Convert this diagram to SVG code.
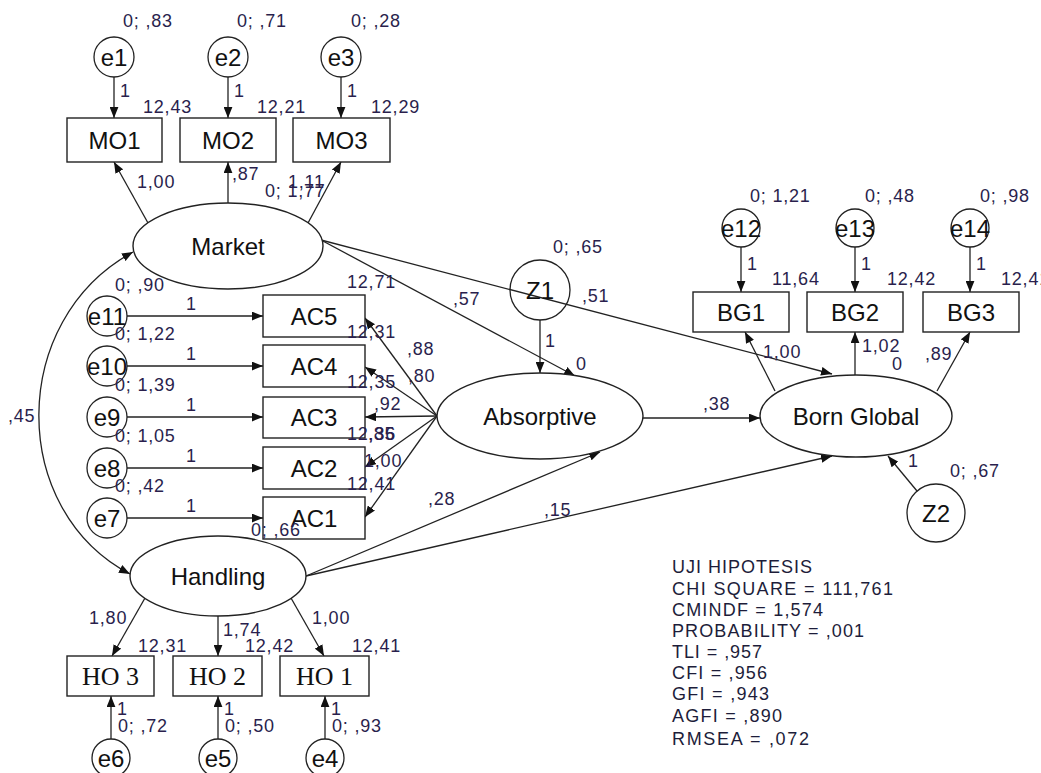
<svg xmlns="http://www.w3.org/2000/svg" width="1041" height="773" viewBox="0 0 1041 773">
<defs>
<marker id="ah" viewBox="0 0 10 8" refX="10" refY="4" markerWidth="11" markerHeight="9" orient="auto-start-reverse" markerUnits="userSpaceOnUse"><path d="M0,0 L10,4 L0,8 z" fill="#111"/></marker>
<style>
.c{stroke:#222;stroke-width:1.3;fill:none}
.a{stroke:#222;stroke-width:1.3;fill:none;marker-end:url(#ah)}
.n{stroke:#222;stroke-width:1.4;fill:#fff}
.e{stroke:#222;stroke-width:1.3;fill:none}
.t{font-family:"Liberation Sans",Arial,sans-serif;font-size:24px;fill:#111;text-anchor:middle}
.ts{font-family:"Liberation Serif","Times New Roman",serif;font-size:26px;fill:#111;text-anchor:middle}
.l{font-family:"Liberation Sans",Arial,sans-serif;font-size:18px;fill:#2a1f4d;letter-spacing:0.8px}
.s{font-family:"Liberation Sans",Arial,sans-serif;font-size:18px;fill:#1d1d3a}
</style>
</defs>
<rect width="1041" height="773" fill="#fff"/>

<g id="connectors">
<line class="a" x1="114" y1="77" x2="114" y2="118"/>
<line class="a" x1="228" y1="77" x2="228" y2="118"/>
<line class="a" x1="341" y1="77" x2="341" y2="118"/>
<line class="a" x1="148" y1="223" x2="114" y2="162"/>
<line class="a" x1="228" y1="203" x2="228" y2="162"/>
<line class="a" x1="308" y1="223" x2="341" y2="162"/>
<line class="a" x1="321" y1="240" x2="832" y2="374"/>
<line class="a" x1="321" y1="240" x2="575" y2="376"/>
<path class="c" d="M133,252 C 8,320 8,510 130,574" style="marker-start:url(#ah);marker-end:url(#ah)"/>
<line class="a" x1="127" y1="316" x2="263" y2="316"/>
<line class="a" x1="127" y1="366" x2="263" y2="366"/>
<line class="a" x1="127" y1="417" x2="263" y2="417"/>
<line class="a" x1="127" y1="468" x2="263" y2="468"/>
<line class="a" x1="127" y1="518" x2="263" y2="518"/>
<line class="a" x1="437" y1="416" x2="365" y2="318"/>
<line class="a" x1="437" y1="416" x2="365" y2="367"/>
<line class="a" x1="437" y1="416" x2="365" y2="417"/>
<line class="a" x1="437" y1="416" x2="365" y2="467"/>
<line class="a" x1="437" y1="416" x2="365" y2="517"/>
<line class="a" x1="540" y1="320" x2="540" y2="373"/>
<line class="a" x1="643" y1="418" x2="760" y2="418"/>
<line class="a" x1="306" y1="576" x2="600" y2="452"/>
<line class="a" x1="306" y1="576" x2="832" y2="456"/>
<line class="a" x1="741" y1="247" x2="741" y2="292"/>
<line class="a" x1="855" y1="247" x2="855" y2="292"/>
<line class="a" x1="970" y1="247" x2="970" y2="292"/>
<line class="a" x1="775" y1="391" x2="745" y2="332"/>
<line class="a" x1="855" y1="375" x2="855" y2="332"/>
<line class="a" x1="937" y1="391" x2="970" y2="332"/>
<line class="a" x1="917" y1="491" x2="888" y2="456"/>
<line class="a" x1="145" y1="598" x2="112" y2="656"/>
<line class="a" x1="218" y1="616" x2="218" y2="656"/>
<line class="a" x1="291" y1="598" x2="324" y2="656"/>
<line class="a" x1="111" y1="739" x2="111" y2="696"/>
<line class="a" x1="218" y1="739" x2="218" y2="696"/>
<line class="a" x1="325" y1="739" x2="325" y2="696"/>
</g>

<g id="MO1"><rect class="n" x="67" y="118" width="95" height="44"/><text class="t" x="114.5" y="149">MO1</text></g>
<g id="MO2"><rect class="n" x="180" y="118" width="96" height="44"/><text class="t" x="228" y="149">MO2</text></g>
<g id="MO3"><rect class="n" x="293" y="118" width="97" height="44"/><text class="t" x="341.5" y="149">MO3</text></g>
<g id="e1"><circle class="e" cx="114" cy="57" r="20"/><text class="t" x="114" y="66">e1</text></g>
<g id="e2"><circle class="e" cx="228" cy="57" r="20"/><text class="t" x="228" y="66">e2</text></g>
<g id="e3"><circle class="e" cx="341" cy="57" r="20"/><text class="t" x="341" y="66">e3</text></g>
<g id="Market"><ellipse class="n" cx="228" cy="246" rx="95" ry="43"/><text class="t" x="228" y="255">Market</text></g>

<g id="AC5"><rect class="n" x="263" y="295" width="102" height="42"/><text class="t" x="314" y="325">AC5</text></g>
<g id="AC4"><rect class="n" x="263" y="345" width="102" height="42"/><text class="t" x="314" y="375">AC4</text></g>
<g id="AC3"><rect class="n" x="263" y="397" width="102" height="41"/><text class="t" x="314" y="426">AC3</text></g>
<g id="AC2"><rect class="n" x="263" y="447" width="102" height="42"/><text class="t" x="314" y="477">AC2</text></g>
<g id="AC1"><rect class="n" x="263" y="497" width="102" height="42"/><text class="t" x="314" y="527">AC1</text></g>
<g id="e11"><circle class="e" cx="107" cy="316" r="20"/><text class="t" x="107" y="325">e11</text></g>
<g id="e10"><circle class="e" cx="107" cy="366" r="20"/><text class="t" x="107" y="375">e10</text></g>
<g id="e9"><circle class="e" cx="107" cy="417" r="20"/><text class="t" x="107" y="426">e9</text></g>
<g id="e8"><circle class="e" cx="107" cy="468" r="20"/><text class="t" x="107" y="477">e8</text></g>
<g id="e7"><circle class="e" cx="107" cy="518" r="20"/><text class="t" x="107" y="527">e7</text></g>

<g id="Z1"><circle class="e" cx="540" cy="290" r="30"/><text class="t" x="540" y="299">Z1</text></g>
<g id="Absorptive"><ellipse class="n" cx="540" cy="416" rx="103" ry="43"/><text class="t" x="540" y="425">Absorptive</text></g>

<g id="BG1"><rect class="n" x="693" y="292" width="96" height="40"/><text class="t" x="741" y="321">BG1</text></g>
<g id="BG2"><rect class="n" x="807" y="292" width="96" height="40"/><text class="t" x="855" y="321">BG2</text></g>
<g id="BG3"><rect class="n" x="923" y="292" width="96" height="40"/><text class="t" x="971" y="321">BG3</text></g>
<g id="e12"><circle class="e" cx="741" cy="228" r="19"/><text class="t" x="741" y="237">e12</text></g>
<g id="e13"><circle class="e" cx="855" cy="228" r="19"/><text class="t" x="855" y="237">e13</text></g>
<g id="e14"><circle class="e" cx="970" cy="228" r="19"/><text class="t" x="970" y="237">e14</text></g>
<g id="BornGlobal"><ellipse class="n" cx="856" cy="416" rx="96" ry="41"/><text class="t" x="856" y="425">Born Global</text></g>
<g id="Z2"><circle class="e" cx="936" cy="513" r="29"/><text class="t" x="936" y="522">Z2</text></g>

<g id="Handling"><ellipse class="n" cx="218" cy="576" rx="88" ry="40"/><text class="t" x="218" y="585">Handling</text></g>
<g id="HO3"><rect class="n" x="67" y="656" width="87" height="40"/><text class="ts" x="110.5" y="685">HO 3</text></g>
<g id="HO2"><rect class="n" x="173" y="656" width="89" height="40"/><text class="ts" x="217.5" y="685">HO 2</text></g>
<g id="HO1"><rect class="n" x="280" y="656" width="89" height="40"/><text class="ts" x="324.5" y="685">HO 1</text></g>
<g id="e6"><circle class="e" cx="111" cy="758" r="19"/><text class="t" x="111" y="767">e6</text></g>
<g id="e5"><circle class="e" cx="218" cy="758" r="19"/><text class="t" x="218" y="767">e5</text></g>
<g id="e4"><circle class="e" cx="325" cy="758" r="19"/><text class="t" x="325" y="767">e4</text></g>

<g id="labels">
<text class="l" x="123" y="27">0; ,83</text>
<text class="l" x="237" y="27">0; ,71</text>
<text class="l" x="351" y="27">0; ,28</text>
<text class="l" x="120" y="97">1</text>
<text class="l" x="234" y="97">1</text>
<text class="l" x="347" y="97">1</text>
<text class="l" x="143" y="113">12,43</text>
<text class="l" x="257" y="113">12,21</text>
<text class="l" x="371" y="113">12,29</text>
<text class="l" x="137" y="188">1,00</text>
<text class="l" x="232" y="180">,87</text>
<text class="l" x="288" y="188">1,11</text>
<text class="l" x="265" y="197">0; 1,77</text>
<text class="l" x="453" y="305">,57</text>
<text class="l" x="582" y="302">,51</text>
<text class="l" x="553" y="253">0; ,65</text>
<text class="l" x="545" y="347">1</text>
<text class="l" x="576" y="370">0</text>
<text class="l" x="8" y="422">,45</text>
<text class="l" x="115" y="291">0; ,90</text>
<text class="l" x="115" y="340">0; 1,22</text>
<text class="l" x="115" y="391">0; 1,39</text>
<text class="l" x="115" y="442">0; 1,05</text>
<text class="l" x="115" y="492">0; ,42</text>
<text class="l" x="186" y="310">1</text>
<text class="l" x="186" y="360">1</text>
<text class="l" x="186" y="411">1</text>
<text class="l" x="186" y="462">1</text>
<text class="l" x="186" y="512">1</text>
<text class="l" x="347" y="288">12,71</text>
<text class="l" x="347" y="338">12,31</text>
<text class="l" x="347" y="388">12,35</text>
<text class="l" x="347" y="440">12,36</text>
<text class="l" x="368" y="440">,85</text>
<text class="l" x="347" y="490">12,41</text>
<text class="l" x="407" y="355">,88</text>
<text class="l" x="408" y="382">,80</text>
<text class="l" x="374" y="410">,92</text>
<text class="l" x="364" y="467">1,00</text>
<text class="l" x="251" y="536">0; ,66</text>
<text class="l" x="428" y="505">,28</text>
<text class="l" x="544" y="516">,15</text>
<text class="l" x="703" y="410">,38</text>
<text class="l" x="750" y="202">0; 1,21</text>
<text class="l" x="865" y="202">0; ,48</text>
<text class="l" x="980" y="202">0; ,98</text>
<text class="l" x="747" y="270">1</text>
<text class="l" x="861" y="270">1</text>
<text class="l" x="976" y="270">1</text>
<text class="l" x="772" y="285">11,64</text>
<text class="l" x="887" y="285">12,42</text>
<text class="l" x="1001" y="285">12,41</text>
<text class="l" x="763" y="358">1,00</text>
<text class="l" x="862" y="352">1,02</text>
<text class="l" x="892" y="370">0</text>
<text class="l" x="925" y="360">,89</text>
<text class="l" x="908" y="467">1</text>
<text class="l" x="950" y="477">0; ,67</text>
<text class="l" x="89" y="624">1,80</text>
<text class="l" x="223" y="636">1,74</text>
<text class="l" x="312" y="624">1,00</text>
<text class="l" x="138" y="652">12,31</text>
<text class="l" x="245" y="652">12,42</text>
<text class="l" x="352" y="652">12,41</text>
<text class="l" x="117" y="715">1</text>
<text class="l" x="118" y="732">0; ,72</text>
<text class="l" x="224" y="715">1</text>
<text class="l" x="225" y="732">0; ,50</text>
<text class="l" x="331" y="715">1</text>
<text class="l" x="332" y="732">0; ,93</text>
</g>

<g id="stats">
<text class="s" x="672" y="573" textLength="140" lengthAdjust="spacing">UJI HIPOTESIS</text>
<text class="s" x="672" y="595" textLength="221" lengthAdjust="spacing">CHI SQUARE = 111,761</text>
<text class="s" x="672" y="616" textLength="151" lengthAdjust="spacing">CMINDF = 1,574</text>
<text class="s" x="672" y="637" textLength="192" lengthAdjust="spacing">PROBABILITY = ,001</text>
<text class="s" x="672" y="658" textLength="90" lengthAdjust="spacing">TLI = ,957</text>
<text class="s" x="672" y="679" textLength="95" lengthAdjust="spacing">CFI = ,956</text>
<text class="s" x="672" y="700" textLength="97" lengthAdjust="spacing">GFI = ,943</text>
<text class="s" x="672" y="722" textLength="110" lengthAdjust="spacing">AGFI = ,890</text>
<text class="s" x="672" y="745" textLength="137" lengthAdjust="spacing">RMSEA = ,072</text>
</g>
</svg>
